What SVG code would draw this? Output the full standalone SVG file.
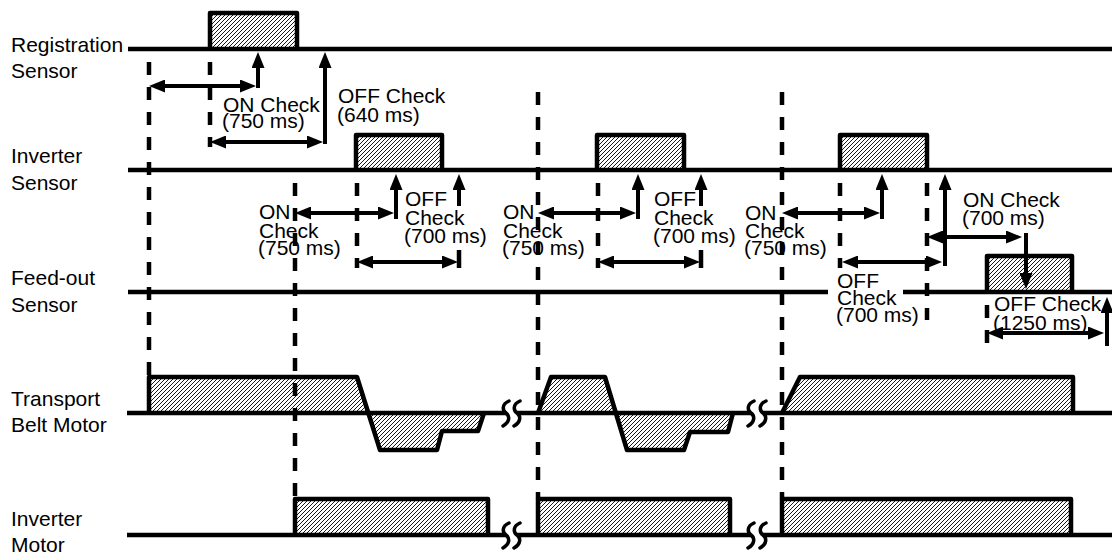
<svg xmlns="http://www.w3.org/2000/svg" width="1112" height="555" viewBox="0 0 1112 555">
<defs>
<pattern id="hatch" patternUnits="userSpaceOnUse" width="4" height="4">
<path d="M-1,1 L1,-1 M0,4 L4,0 M3,5 L5,3" stroke="#000" stroke-width="0.9"/>
</pattern>
<marker id="ah" markerUnits="userSpaceOnUse" markerWidth="16" markerHeight="13" refX="8" refY="6.5" orient="auto-start-reverse" viewBox="0 0 16 13">
<path d="M0,0 L16,6.5 L0,13 z" fill="#000"/>
</marker>
<style>
.ln{stroke:#000;stroke-width:4.5;fill:none}
.edge{stroke:#000;stroke-width:4.5;fill:none;stroke-linejoin:round}
.fillh{fill:url(#hatch);stroke:none}
.dash{stroke:#000;stroke-width:4.5;stroke-dasharray:13 12;fill:none}
.arr{stroke:#000;stroke-width:4;fill:none}
.one{marker-end:url(#ah)}
.two{marker-start:url(#ah);marker-end:url(#ah)}
.brk{stroke:#000;stroke-width:3.5;fill:none;stroke-linecap:round}
text{font-family:"Liberation Sans",Arial,sans-serif;font-size:21px;fill:#000}
</style>
</defs>
<rect width="1112" height="555" fill="#fff"/>

<g id="registration-sensor">
<path class="fillh" d="M210,49 V13 H297 V49 Z"/>
<line class="ln" x1="128" y1="49" x2="1112" y2="49"/>
<path class="edge" d="M210,49 V13 H297 V49"/>
<text x="11" y="52">Registration</text>
<text x="11" y="78">Sensor</text>
</g>

<g id="inverter-sensor">
<path class="fillh" d="M356,170 V135 H442 V170 Z M597,170 V135 H684 V170 Z M840,170 V135 H927 V170 Z"/>
<line class="ln" x1="128" y1="170" x2="1112" y2="170"/>
<path class="edge" d="M356,170 V135 H442 V170 M597,170 V135 H684 V170 M840,170 V135 H927 V170"/>
<text x="11" y="163">Inverter</text>
<text x="11" y="190">Sensor</text>
</g>

<g id="feedout-sensor">
<path class="fillh" d="M987,292 V256 H1072 V292 Z"/>
<path class="ln" d="M128,292 H828 M903,292 H1112"/>
<path class="edge" d="M987,292 V256 H1072 V292"/>
<text x="11" y="285">Feed-out</text>
<text x="11" y="312">Sensor</text>
</g>

<g id="transport-belt-motor">
<path class="fillh" d="M149,413 V377 H357 L380,450 H437 L442,431 H478 L484,413 Z"/>
<path class="fillh" d="M538,413 L551,377 H605 L627,450 H684 L690,432 H728 L733,413 Z"/>
<path class="fillh" d="M782,413 L800,377 H1073 V413 Z"/>
<path class="ln" d="M127,413 H506 M517,413 H751 M763,413 H1112"/>
<path class="edge" d="M149,413 V377 H357 L380,450 H437 L442,431 H478 L484,413"/>
<path class="edge" d="M538,413 L551,377 H605 L627,450 H684 L690,432 H728 L733,413"/>
<path class="edge" d="M782,413 L800,377 H1073 V413"/>
<path class="brk" d="M509,401 C502,404 502,410 506,413 C510,416 510,422 503,426 M520,401 C513,404 513,410 517,413 C521,416 521,422 514,426"/>
<path class="brk" d="M754,401 C747,404 747,410 751,413 C755,416 755,422 748,426 M766,401 C759,404 759,410 763,413 C767,416 767,422 760,426"/>
<text x="11" y="406">Transport</text>
<text x="11" y="432">Belt Motor</text>
</g>

<g id="inverter-motor">
<path class="fillh" d="M295,535 V499 H488 V535 Z M538,535 V499 H730 V535 Z M782,535 V499 H1071 V535 Z"/>
<path class="ln" d="M127,535 H506 M517,535 H751 M763,535 H1112"/>
<path class="edge" d="M295,535 V499 H488 V535 M538,535 V499 H730 V535 M782,535 V499 H1071 V535"/>
<path class="brk" d="M509,523 C502,526 502,532 506,535 C510,538 510,544 503,548 M520,523 C513,526 513,532 517,535 C521,538 521,544 514,548"/>
<path class="brk" d="M754,523 C747,526 747,532 751,535 C755,538 755,544 748,548 M766,523 C759,526 759,532 763,535 C767,538 767,544 760,548"/>
<text x="11" y="526">Inverter</text>
<text x="11" y="552">Motor</text>
</g>

<g id="timing-guides">
<line class="dash" x1="149" y1="62" x2="149" y2="377"/>
<line class="dash" x1="210" y1="62" x2="210" y2="147"/>
<line class="dash" x1="295" y1="183" x2="295" y2="499"/>
<line class="dash" x1="357" y1="183" x2="357" y2="268"/>
<line class="dash" x1="538" y1="92" x2="538" y2="499"/>
<line class="dash" x1="598" y1="183" x2="598" y2="268"/>
<line class="dash" x1="782" y1="92" x2="782" y2="499"/>
<line class="dash" x1="840" y1="183" x2="840" y2="268"/>
<line class="dash" x1="927" y1="183" x2="927" y2="320"/>
<line class="dash" x1="987" y1="305" x2="987" y2="345"/>
</g>

<g id="connectors">
<!-- Registration -->
<line class="arr two" x1="157" y1="86" x2="248" y2="86"/>
<line class="arr one" x1="258" y1="88" x2="258" y2="60"/>
<line class="arr one" x1="325" y1="144" x2="325" y2="60"/>
<line class="arr two" x1="218" y1="142" x2="315" y2="142"/>
<!-- Inverter sensor section 1 -->
<line class="arr two" x1="303" y1="213" x2="386" y2="213"/>
<line class="arr one" x1="396" y1="219" x2="396" y2="182"/>
<line class="arr one" x1="459" y1="206" x2="459" y2="182"/>
<line class="arr two" x1="365" y1="262" x2="450" y2="262"/>
<line class="ln" x1="459" y1="250" x2="459" y2="268"/>
<!-- Inverter sensor section 2 -->
<line class="arr two" x1="546" y1="213" x2="628" y2="213"/>
<line class="arr one" x1="638" y1="219" x2="638" y2="182"/>
<line class="arr one" x1="701" y1="206" x2="701" y2="182"/>
<line class="arr two" x1="606" y1="262" x2="692" y2="262"/>
<line class="ln" x1="701" y1="250" x2="701" y2="268"/>
<!-- Inverter sensor section 3 -->
<line class="arr two" x1="790" y1="213" x2="872" y2="213"/>
<line class="arr one" x1="882" y1="219" x2="882" y2="182"/>
<line class="arr one" x1="945" y1="266" x2="945" y2="182"/>
<line class="arr two" x1="850" y1="262" x2="934" y2="262"/>
<line class="arr two" x1="935" y1="237" x2="1014" y2="237"/>
<line class="arr one" x1="1026" y1="233" x2="1026" y2="281"/>
<!-- Feed-out -->
<line class="arr two" x1="995" y1="333" x2="1096" y2="333"/>
<line class="arr one" x1="1107" y1="346" x2="1107" y2="305"/>
</g>

<g id="labels">
<text x="223" y="112">ON Check</text>
<text x="222" y="128">(750 ms)</text>
<text x="338" y="103">OFF Check</text>
<text x="337" y="122">(640 ms)</text>

<text x="259" y="219">ON</text>
<text x="259" y="238">Check</text>
<text x="258" y="255">(750 ms)</text>
<text x="405" y="206">OFF</text>
<text x="405" y="225">Check</text>
<text x="404" y="243">(700 ms)</text>

<text x="503" y="219">ON</text>
<text x="503" y="238">Check</text>
<text x="502" y="255">(750 ms)</text>
<text x="654" y="206">OFF</text>
<text x="654" y="225">Check</text>
<text x="653" y="243">(700 ms)</text>

<text x="745" y="220">ON</text>
<text x="745" y="238">Check</text>
<text x="744" y="255">(750 ms)</text>
<text x="963" y="207">ON Check</text>
<text x="962" y="225">(700 ms)</text>
<text x="837" y="288">OFF</text>
<text x="837" y="305">Check</text>
<text x="836" y="322">(700 ms)</text>

<text x="994" y="311">OFF Check</text>
<text x="993" y="330">(1250 ms)</text>
</g>
</svg>
